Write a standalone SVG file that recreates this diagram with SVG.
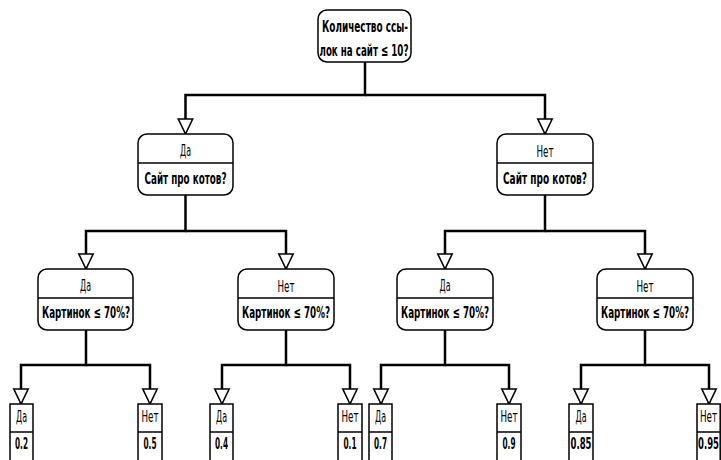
<svg xmlns="http://www.w3.org/2000/svg" width="721" height="460" viewBox="0 0 721 460">
<defs>
<style>
.box{fill:#fff;stroke:#000;stroke-width:1.5}
.div{stroke:#000;stroke-width:1.5}
.conn{fill:none;stroke:#000;stroke-width:2.5}
text{font-family:"DejaVu Sans Condensed","DejaVu Sans","Liberation Sans",sans-serif;font-stretch:condensed;text-anchor:middle;fill:#000}
.q{font-weight:bold;font-size:16px}
.r{font-size:16px}
.root{font-weight:bold;font-size:16.5px}
</style>
<marker id="tri" markerUnits="userSpaceOnUse" markerWidth="18" markerHeight="18" refX="16" refY="8" orient="auto" viewBox="0 0 18 16">
<path d="M1,0.8 L16,8 L1,15.2 Z" fill="#fff" stroke="#000" stroke-width="1.6"/>
</marker>
</defs>
<rect width="721" height="460" fill="#fff"/>
<g id="connectors">
<path class="conn" d="M365,62 V95 H185.5 V134" marker-end="url(#tri)"/>
<path class="conn" d="M365,95 H545 V134" marker-end="url(#tri)"/>
<path class="conn" d="M185.5,195 V231 H86 V269" marker-end="url(#tri)"/>
<path class="conn" d="M185.5,231 H286 V269" marker-end="url(#tri)"/>
<path class="conn" d="M545,195 V231 H445 V269" marker-end="url(#tri)"/>
<path class="conn" d="M545,231 H645 V269" marker-end="url(#tri)"/>
<path class="conn" d="M86,330 V365 H21 V404" marker-end="url(#tri)"/>
<path class="conn" d="M86,365 H150 V404" marker-end="url(#tri)"/>
<path class="conn" d="M286,330 V365 H222 V404" marker-end="url(#tri)"/>
<path class="conn" d="M286,365 H350 V404" marker-end="url(#tri)"/>
<path class="conn" d="M445,330 V365 H381 V404" marker-end="url(#tri)"/>
<path class="conn" d="M445,365 H509 V404" marker-end="url(#tri)"/>
<path class="conn" d="M645,330 V365 H581 V404" marker-end="url(#tri)"/>
<path class="conn" d="M645,365 H709 V404" marker-end="url(#tri)"/>
</g>
<g id="root">
<rect class="box" x="318" y="10" width="93" height="52" rx="9"/>
<text class="root" x="365" y="32" textLength="86" lengthAdjust="spacingAndGlyphs">Количество ссы-</text>
<text class="root" x="364" y="56" textLength="89" lengthAdjust="spacingAndGlyphs">лок на сайт ≤ 10?</text>
</g>
<g id="n_yes">
<rect class="box" x="138" y="134" width="95" height="61" rx="9"/>
<line class="div" x1="138" y1="163" x2="233" y2="163"/>
<text class="r" x="185.5" y="156" textLength="11" lengthAdjust="spacingAndGlyphs">Да</text>
<text class="q" x="185.5" y="184" textLength="82" lengthAdjust="spacingAndGlyphs">Сайт про котов?</text>
</g>
<g id="n_no">
<rect class="box" x="497" y="134" width="96" height="61" rx="9"/>
<line class="div" x1="497" y1="163" x2="593" y2="163"/>
<text class="r" x="545" y="157" textLength="17" lengthAdjust="spacingAndGlyphs">Нет</text>
<text class="q" x="545" y="184" textLength="84" lengthAdjust="spacingAndGlyphs">Сайт про котов?</text>
</g>
<g id="n_yes_yes">
<rect class="box" x="38" y="269" width="95" height="61" rx="9"/>
<line class="div" x1="38" y1="298" x2="133" y2="298"/>
<text class="r" x="85.5" y="291" textLength="11" lengthAdjust="spacingAndGlyphs">Да</text>
<text class="q" x="86" y="318" textLength="88" lengthAdjust="spacingAndGlyphs">Картинок ≤ 70%?</text>
</g>
<g id="n_yes_no">
<rect class="box" x="238" y="269" width="96" height="61" rx="9"/>
<line class="div" x1="238" y1="298" x2="334" y2="298"/>
<text class="r" x="286" y="292" textLength="17" lengthAdjust="spacingAndGlyphs">Нет</text>
<text class="q" x="286" y="318" textLength="88" lengthAdjust="spacingAndGlyphs">Картинок ≤ 70%?</text>
</g>
<g id="n_no_yes">
<rect class="box" x="397" y="269" width="96" height="61" rx="9"/>
<line class="div" x1="397" y1="298" x2="493" y2="298"/>
<text class="r" x="445" y="291" textLength="11" lengthAdjust="spacingAndGlyphs">Да</text>
<text class="q" x="445" y="318" textLength="88" lengthAdjust="spacingAndGlyphs">Картинок ≤ 70%?</text>
</g>
<g id="n_no_no">
<rect class="box" x="597" y="269" width="96" height="61" rx="9"/>
<line class="div" x1="597" y1="298" x2="693" y2="298"/>
<text class="r" x="645" y="292" textLength="17" lengthAdjust="spacingAndGlyphs">Нет</text>
<text class="q" x="645" y="318" textLength="88" lengthAdjust="spacingAndGlyphs">Картинок ≤ 70%?</text>
</g>
<g id="leaf1">
<rect class="box" x="10" y="404" width="23" height="66"/>
<line class="div" x1="10" y1="432" x2="33" y2="432"/>
<text class="r" x="21.5" y="422" textLength="11" lengthAdjust="spacingAndGlyphs">Да</text>
<text class="q" x="21.5" y="449" textLength="13" lengthAdjust="spacingAndGlyphs">0.2</text>
</g>
<g id="leaf2">
<rect class="box" x="138" y="404" width="24" height="66"/>
<line class="div" x1="138" y1="432" x2="162" y2="432"/>
<text class="r" x="150" y="422" textLength="17" lengthAdjust="spacingAndGlyphs">Нет</text>
<text class="q" x="150" y="449" textLength="13" lengthAdjust="spacingAndGlyphs">0.5</text>
</g>
<g id="leaf3">
<rect class="box" x="210" y="404" width="23" height="66"/>
<line class="div" x1="210" y1="432" x2="233" y2="432"/>
<text class="r" x="221.5" y="422" textLength="11" lengthAdjust="spacingAndGlyphs">Да</text>
<text class="q" x="221.5" y="449" textLength="13" lengthAdjust="spacingAndGlyphs">0.4</text>
</g>
<g id="leaf4">
<rect class="box" x="338" y="404" width="24" height="66"/>
<line class="div" x1="338" y1="432" x2="362" y2="432"/>
<text class="r" x="350" y="422" textLength="17" lengthAdjust="spacingAndGlyphs">Нет</text>
<text class="q" x="350" y="449" textLength="13" lengthAdjust="spacingAndGlyphs">0.1</text>
</g>
<g id="leaf5">
<rect class="box" x="369" y="404" width="23" height="66"/>
<line class="div" x1="369" y1="432" x2="392" y2="432"/>
<text class="r" x="380.5" y="422" textLength="11" lengthAdjust="spacingAndGlyphs">Да</text>
<text class="q" x="380.5" y="449" textLength="13" lengthAdjust="spacingAndGlyphs">0.7</text>
</g>
<g id="leaf6">
<rect class="box" x="497" y="404" width="24" height="66"/>
<line class="div" x1="497" y1="432" x2="521" y2="432"/>
<text class="r" x="509" y="422" textLength="17" lengthAdjust="spacingAndGlyphs">Нет</text>
<text class="q" x="509" y="449" textLength="13" lengthAdjust="spacingAndGlyphs">0.9</text>
</g>
<g id="leaf7">
<rect class="box" x="569" y="404" width="24" height="66"/>
<line class="div" x1="569" y1="432" x2="593" y2="432"/>
<text class="r" x="581" y="422" textLength="11" lengthAdjust="spacingAndGlyphs">Да</text>
<text class="q" x="581" y="449" textLength="21" lengthAdjust="spacingAndGlyphs">0.85</text>
</g>
<g id="leaf8">
<rect class="box" x="697" y="404" width="23.2" height="66"/>
<line class="div" x1="697" y1="432" x2="720.2" y2="432"/>
<text class="r" x="708.5" y="422" textLength="17" lengthAdjust="spacingAndGlyphs">Нет</text>
<text class="q" x="708.5" y="449" textLength="21" lengthAdjust="spacingAndGlyphs">0.95</text>
</g>
</svg>
